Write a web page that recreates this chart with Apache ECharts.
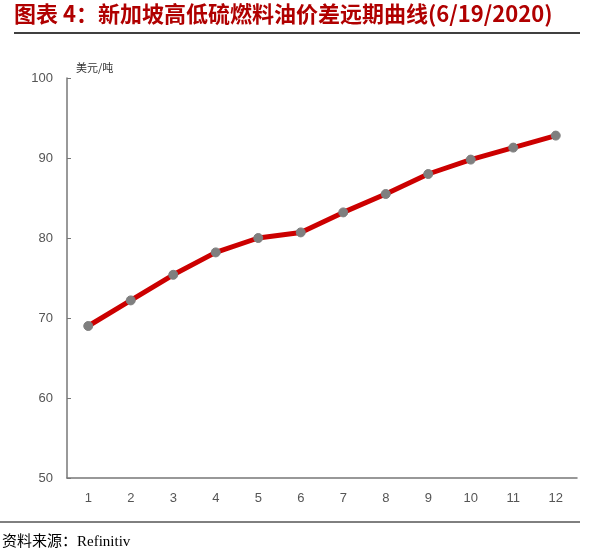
<!DOCTYPE html><html><head><meta charset="utf-8"><script src="https://cdn.jsdelivr.net/npm/echarts@6/dist/echarts.min.js"></script>
<style>body{margin:0}#c{width:599px;height:558px}</style></head><body><div id="c"></div><script>
const categories=['1','2','3','4','5','6','7','8','9','10','11','12'];
const values=[69,72.2,75.4,78.2,80,80.7,83.2,85.5,88,89.8,91.3,92.8];
const chart=echarts.init(document.getElementById('c'));
chart.setOption({
 animation:false,
 graphic:[
  {type:'text',left:14,top:3,style:{text:'图表 4：新加坡高低硫燃料油价差远期曲线(6/19/2020)',fill:'#b00000',font:'bold 22px "Noto Sans CJK SC", serif'}},
  {type:'line',shape:{x1:14,y1:33,x2:580,y2:33},style:{stroke:'#000',lineWidth:1.5}},
  {type:'line',shape:{x1:0,y1:522,x2:580,y2:522},style:{stroke:'#000',lineWidth:1}},
  {type:'text',left:2,top:535,style:{text:'资料来源：Refinitiv',fill:'#000',font:'15px "Liberation Serif", "Noto Sans CJK SC", serif'}},
  {type:'text',left:76,top:62,style:{text:'美元/吨',fill:'#333',font:'11px "Noto Sans CJK SC"'}}
 ],
 grid:{left:67,right:22,top:78,bottom:80},
 xAxis:{type:'category',data:categories,boundaryGap:true,
  axisLine:{lineStyle:{color:'#777',width:1.5}},axisTick:{inside:true,length:4,lineStyle:{color:'#777'}},
  axisLabel:{color:'#555',fontSize:13,margin:14,fontFamily:'Liberation Sans'}},
 yAxis:{type:'value',min:50,max:100,interval:10,splitLine:{show:false},
  axisLine:{show:true,lineStyle:{color:'#777',width:1.5}},axisTick:{show:true,inside:true,length:4,lineStyle:{color:'#777'}},
  axisLabel:{color:'#555',fontSize:13,margin:14,fontFamily:'Liberation Sans'}},
 series:[{type:'line',data:values,lineStyle:{color:'#cc0000',width:5},symbol:'circle',symbolSize:9,
  itemStyle:{color:'#7f7f7f',borderColor:'#7f7f7f'}}]
});
</script></body></html>
